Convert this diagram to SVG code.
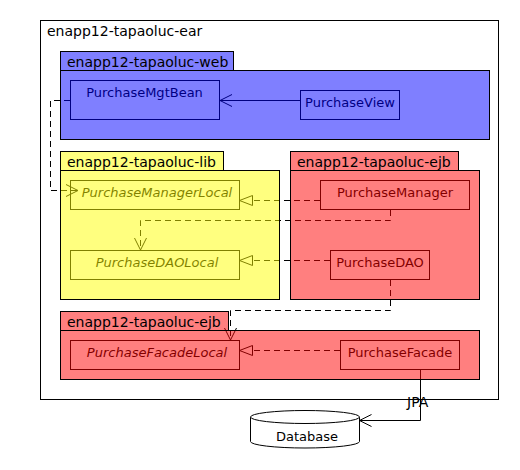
<svg xmlns="http://www.w3.org/2000/svg" width="520" height="470" viewBox="0 0 520 470">
<style>
  text { font-family: "DejaVu Sans", "Liberation Sans", sans-serif; fill: #000; }
  .pkg { font-size: 14px; }
  .cls { font-size: 13px; text-anchor: middle; }
  .itl { font-style: italic; }
  .box { fill: none; stroke: #000; stroke-width: 1; }
  .line { fill: none; stroke: #000; stroke-width: 1; }
  .dash { stroke-dasharray: 6 4; }
  .web { fill: #0000ff; fill-opacity: 0.5; stroke: #000; stroke-width: 1; }
  .lib { fill: #ffff00; fill-opacity: 0.5; stroke: #000; stroke-width: 1; }
  .ejb { fill: #ff0000; fill-opacity: 0.5; stroke: #000; stroke-width: 1; }
</style>
<defs>
  <marker id="open" markerUnits="userSpaceOnUse" markerWidth="16" markerHeight="16" refX="12" refY="6" orient="auto" overflow="visible">
    <path d="M0,0 L12,6 L0,12" fill="none" stroke="#000" stroke-width="1"/>
  </marker>
  <marker id="tri" markerUnits="userSpaceOnUse" markerWidth="16" markerHeight="16" refX="0" refY="5" orient="auto" overflow="visible">
    <path d="M0,0 L13,5 L0,10 Z" fill="none" stroke="#000" stroke-width="1"/>
  </marker>
</defs>
<rect x="0" y="0" width="520" height="470" fill="#fff"/>

<g id="enapp12-tapaoluc-ear">
  <rect x="40.5" y="20.5" width="458" height="379" fill="#fff" stroke="#000"/>
  <text class="pkg" x="47" y="36">enapp12-tapaoluc-ear</text>
</g>

<g id="PurchaseMgtBean">
  <rect class="box" x="70.5" y="80.5" width="149" height="39"/>
  <text class="cls" x="144.5" y="97">PurchaseMgtBean</text>
</g>
<g id="PurchaseView">
  <rect class="box" x="300.5" y="90.5" width="99" height="29"/>
  <text class="cls" x="350" y="107">PurchaseView</text>
</g>
<g id="PurchaseManagerLocal">
  <rect class="box" x="70.5" y="180.5" width="169" height="29"/>
  <text class="cls itl" x="157" y="197">PurchaseManagerLocal</text>
</g>
<g id="PurchaseManager">
  <rect class="box" x="320.5" y="180.5" width="149" height="29"/>
  <text class="cls" x="395" y="197">PurchaseManager</text>
</g>
<g id="PurchaseDAOLocal">
  <rect class="box" x="70.5" y="250.5" width="169" height="29"/>
  <text class="cls itl" x="157" y="267">PurchaseDAOLocal</text>
</g>
<g id="PurchaseDAO">
  <rect class="box" x="330.5" y="250.5" width="99" height="29"/>
  <text class="cls" x="380" y="267">PurchaseDAO</text>
</g>
<g id="PurchaseFacadeLocal">
  <rect class="box" x="70.5" y="340.5" width="169" height="29"/>
  <text class="cls itl" x="157" y="357">PurchaseFacadeLocal</text>
</g>
<g id="PurchaseFacade">
  <rect class="box" x="340.5" y="340.5" width="119" height="29"/>
  <text class="cls" x="400" y="357">PurchaseFacade</text>
</g>

<g id="connectors">
  <path class="line" d="M300,100.5 H220" marker-end="url(#open)"/>
  <path class="line dash" d="M70,100.5 H50.5 V190.5 H78" marker-end="url(#open)"/>
  <path class="line dash" d="M320,200.5 H252.5" marker-end="url(#tri)"/>
  <path class="line dash" d="M390.5,210 V220.5 H140.5 V250" marker-end="url(#open)"/>
  <path class="line dash" d="M330,260.5 H252.5" marker-end="url(#tri)"/>
  <path class="line dash" d="M390.5,280 V310.5 H230.5 V340" marker-end="url(#open)"/>
  <path class="line dash" d="M340,350.5 H252.5" marker-end="url(#tri)"/>
  <path class="line" d="M420.5,370 V420.5 H359.5" marker-end="url(#open)"/>
  <text class="pkg" x="407" y="407">JPA</text>
</g>

<g id="enapp12-tapaoluc-web">
  <rect class="web" x="60.5" y="51.5" width="173" height="19"/>
  <rect class="web" x="60.5" y="70.5" width="429" height="69"/>
  <text class="pkg" x="67" y="66.5">enapp12-tapaoluc-web</text>
</g>
<g id="enapp12-tapaoluc-lib">
  <rect class="lib" x="60.5" y="151.5" width="163" height="19"/>
  <rect class="lib" x="60.5" y="170.5" width="219" height="129"/>
  <text class="pkg" x="67" y="166.5">enapp12-tapaoluc-lib</text>
</g>
<g id="enapp12-tapaoluc-ejb-1">
  <rect class="ejb" x="290.5" y="151.5" width="168" height="19"/>
  <rect class="ejb" x="290.5" y="170.5" width="189" height="129"/>
  <text class="pkg" x="297" y="166.5">enapp12-tapaoluc-ejb</text>
</g>
<g id="enapp12-tapaoluc-ejb-2">
  <rect class="ejb" x="60.5" y="311.5" width="168" height="19"/>
  <rect class="ejb" x="60.5" y="330.5" width="419" height="49"/>
  <text class="pkg" x="67" y="326.5">enapp12-tapaoluc-ejb</text>
</g>

<g id="Database">
  <path d="M250.5,417 V441.5 A54.5,6.5 0 0 0 359.5,441.5 V417" fill="#fff" stroke="#000"/>
  <ellipse cx="305" cy="417" rx="54.5" ry="6.5" fill="#fff" stroke="#000"/>
  <text class="cls" x="307" y="441">Database</text>
</g>
</svg>
